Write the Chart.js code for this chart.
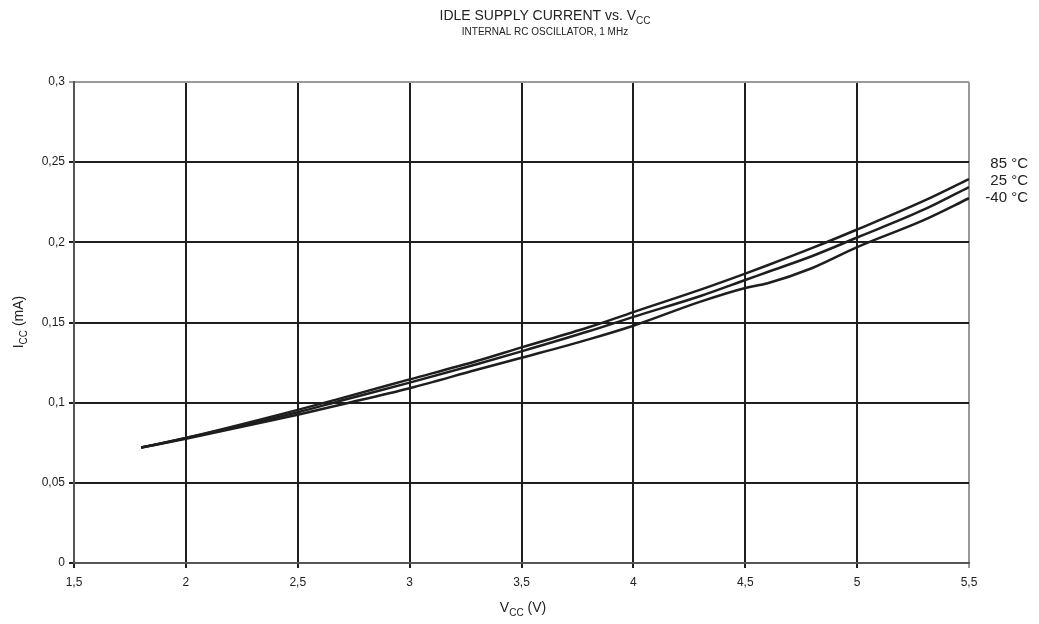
<!DOCTYPE html>
<html><head><meta charset="utf-8">
<script src="https://cdn.jsdelivr.net/npm/chart.js@4/dist/chart.umd.min.js"></script>
<style>html,body{margin:0;padding:0;background:#fff}#wrap{width:1039px;height:624px}</style>
</head><body><div id="wrap"><canvas id="c" width="1039" height="624"></canvas></div>
<script>
const vcc = [1.8, 2.0, 2.5, 2.7, 3.0, 3.3, 3.5, 3.8, 4.0, 4.3, 4.5, 4.6, 4.8, 5.0, 5.3, 5.5];
const icc85 = [0.072, 0.078, 0.0955, 0.103, 0.1145, 0.126, 0.1345, 0.147, 0.1565, 0.1705, 0.1805, 0.1857, 0.1965, 0.208, 0.226, 0.2395];
const icc25 = [0.072, 0.078, 0.094, 0.1015, 0.1125, 0.124, 0.132, 0.1445, 0.1535, 0.1665, 0.1765, 0.1815, 0.1915, 0.203, 0.2205, 0.2345];
const iccM40 = [0.072, 0.0775, 0.0925, 0.099, 0.109, 0.1205, 0.128, 0.1395, 0.148, 0.163, 0.1715, 0.1745, 0.184, 0.197, 0.214, 0.2275];
const seriesNames = ["85 °C", "25 °C", "-40 °C"];
const seriesValues = [icc85, icc25, iccM40];

const FONT = "'Liberation Sans', Arial, sans-serif";
const fmt = v => String(Math.round(v * 100) / 100).replace('.', ',');

function drawSub(ctx, parts, x, y, align, size) {
  const subSize = Math.round(size * 0.72);
  let w = 0;
  parts.forEach(p => { ctx.font = (p[1] ? subSize : size) + 'px ' + FONT; w += ctx.measureText(p[0]).width; });
  let cx = align === 'center' ? x - w / 2 : (align === 'right' ? x - w : x);
  ctx.textAlign = 'left';
  parts.forEach(p => {
    ctx.font = (p[1] ? subSize : size) + 'px ' + FONT;
    ctx.fillText(p[0], cx, p[1] ? y + size * 0.25 : y);
    cx += ctx.measureText(p[0]).width;
  });
}

const textPlugin = {
  id: 'texts',
  afterDraw(chart) {
    const ctx = chart.ctx;
    ctx.save();
    ctx.fillStyle = '#222';
    ctx.textBaseline = 'alphabetic';
    drawSub(ctx, [['IDLE SUPPLY CURRENT vs. V', false], ['CC', true]], 545, 20, 'center', 14);
    ctx.font = '10px ' + FONT;
    ctx.textAlign = 'center';
    ctx.fillText('INTERNAL RC OSCILLATOR, 1 MHz', 545, 35);
    drawSub(ctx, [['V', false], ['CC', true], [' (V)', false]], 523, 612, 'center', 14);
    ctx.save();
    ctx.translate(23, 322);
    ctx.rotate(-Math.PI / 2);
    drawSub(ctx, [['I', false], ['CC', true], [' (mA)', false]], 0, 0, 'center', 14);
    ctx.restore();
    ctx.font = '15px ' + FONT;
    ctx.textAlign = 'right';
    const ys = [168, 185, 202];
    seriesNames.forEach((n, i) => ctx.fillText(n, 1028, ys[i]));
    ctx.restore();
  }
};

const datasets = seriesNames.map((n, i) => ({
  label: n,
  data: vcc.map((x, j) => ({ x: x, y: seriesValues[i][j] })),
  borderColor: '#1e1e1e',
  borderWidth: 2.5,
  pointRadius: 0,
  cubicInterpolationMode: 'monotone',
  fill: false
}));

new Chart(document.getElementById('c'), {
  type: 'line',
  data: { datasets },
  options: {
    responsive: false,
    animation: false,
    layout: { padding: { left: 0, top: 82, right: 70, bottom: 0 } },
    plugins: { legend: { display: false }, title: { display: false }, tooltip: { enabled: false } },
    scales: {
      x: {
        type: 'linear', min: 1.5, max: 5.5,
        ticks: { stepSize: 0.5, callback: v => fmt(v), color: '#222', font: { family: FONT, size: 12 }, padding: 7, maxRotation: 0 },
        grid: {
          color: c => (c.tick && Math.abs(c.tick.value - 5.5) < 1e-6) ? '#9a9a9a' : '#1e1e1e',
          lineWidth: 2, tickLength: 5, drawOnChartArea: true
        },
        border: { color: '#555', width: 2 },
        afterFit: s => { s.height = 61; }
      },
      y: {
        min: 0, max: 0.3,
        ticks: { stepSize: 0.05, callback: v => fmt(v), color: '#222', font: { family: FONT, size: 12 }, padding: 4 },
        grid: {
          color: c => (c.tick && Math.abs(c.tick.value - 0.3) < 1e-6) ? '#9a9a9a' : '#1e1e1e',
          lineWidth: 2, tickLength: 5
        },
        border: { color: '#555', width: 2 },
        afterFit: s => { s.width = 74; }
      }
    }
  },
  plugins: [textPlugin]
});
</script></body></html>
